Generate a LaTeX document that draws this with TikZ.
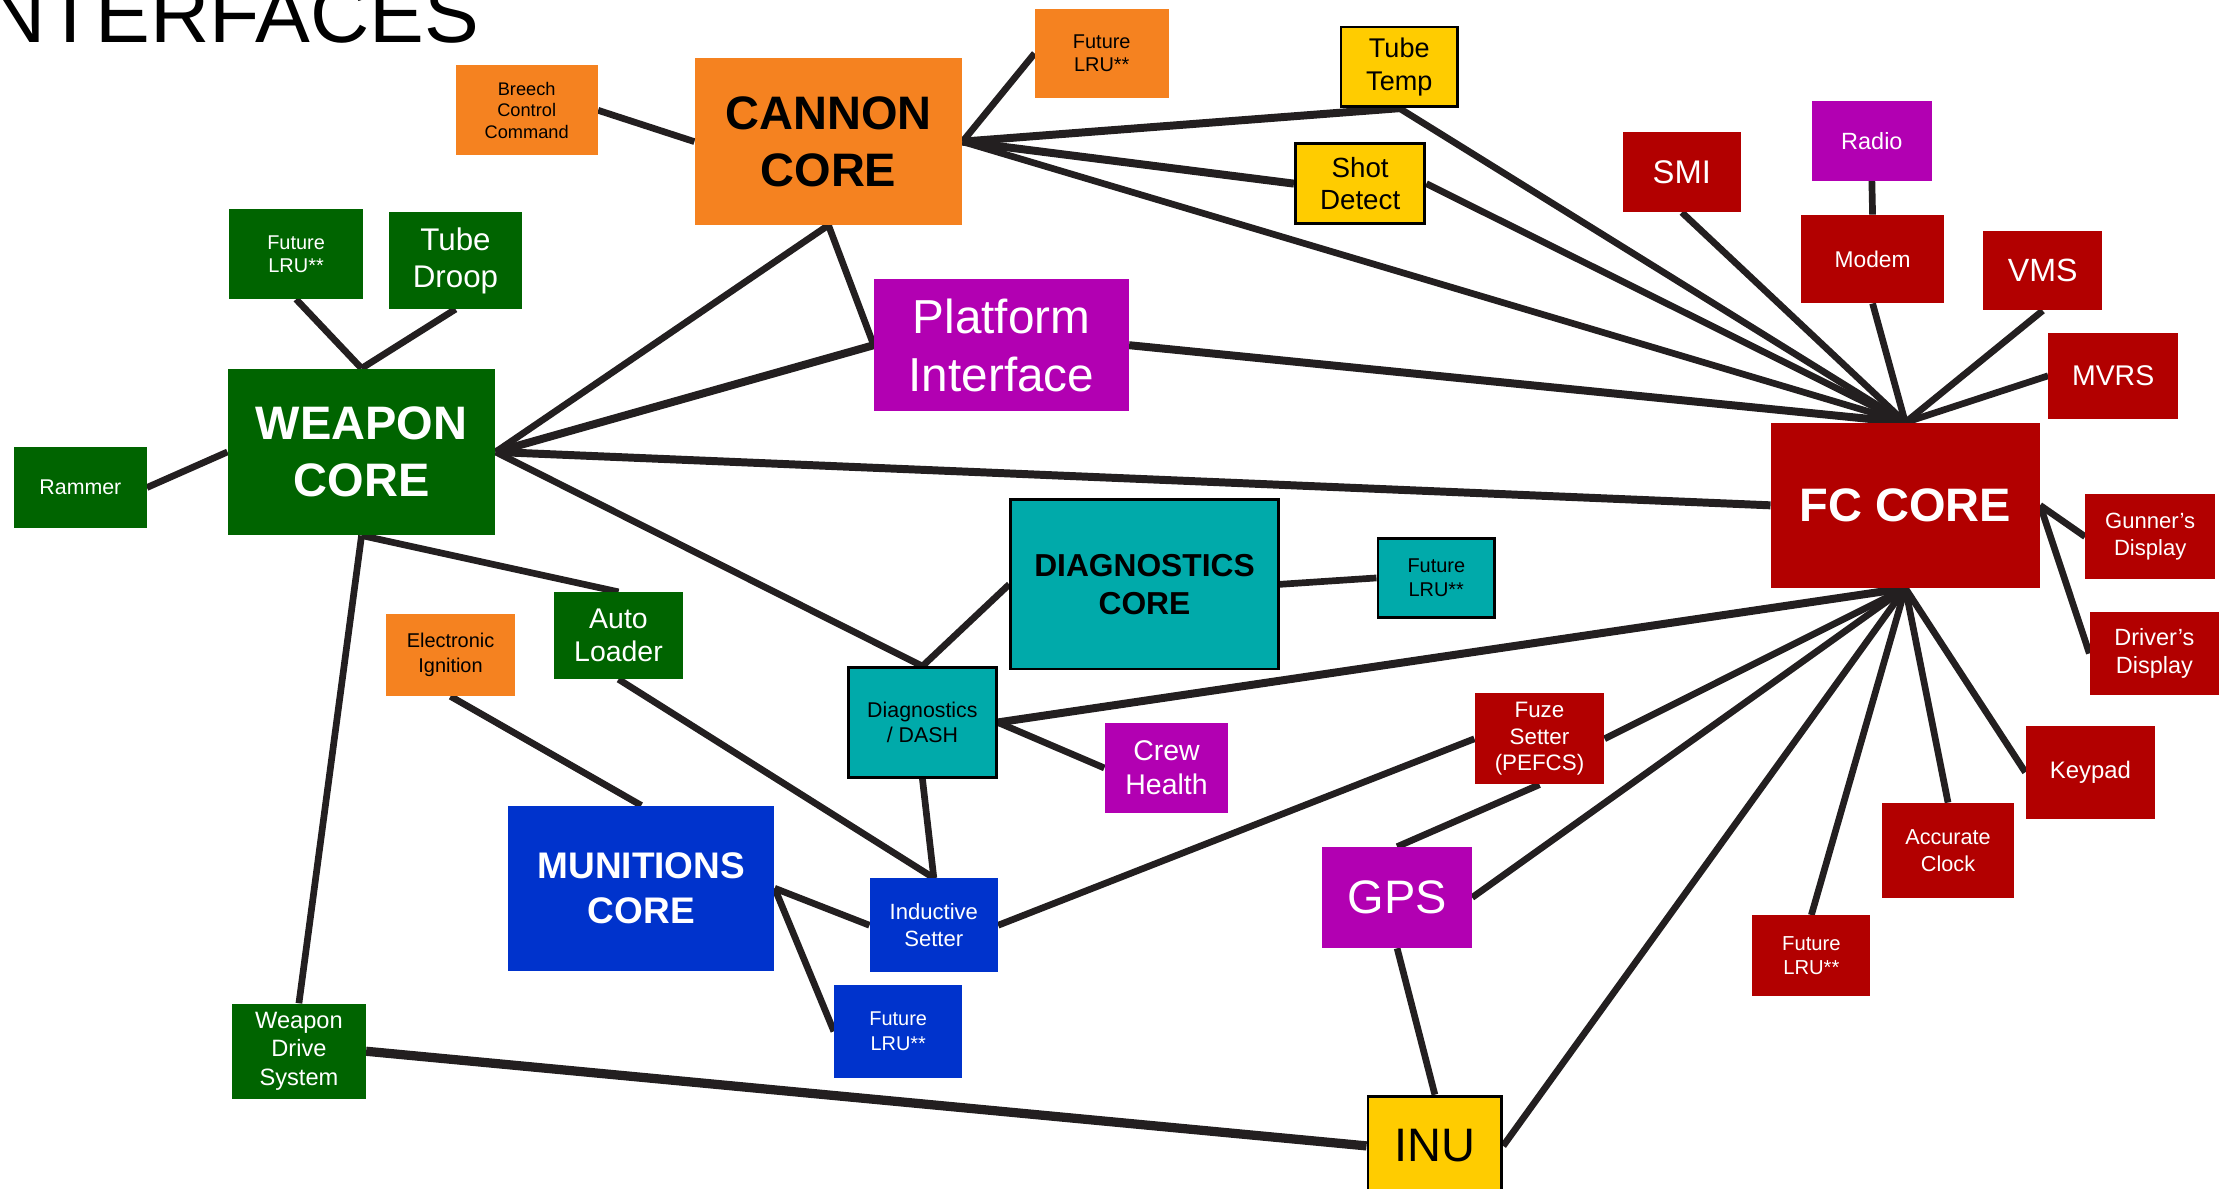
\documentclass[tikz,border=0pt]{standalone}
\usepackage{fontspec}
\setmainfont{Liberation Sans}
\usetikzlibrary{backgrounds}
\definecolor{lineclr}{RGB}{35,31,32}
\definecolor{orangeclr}{RGB}{245,130,32}
\definecolor{greenclr}{RGB}{0,100,0}
\definecolor{redclr}{RGB}{178,0,0}
\definecolor{magclr}{RGB}{178,0,178}
\definecolor{yelclr}{RGB}{255,204,0}
\definecolor{tealclr}{RGB}{0,170,170}
\definecolor{blueclr}{RGB}{0,51,204}
\tikzset{
  box/.style={rectangle, inner sep=0pt, align=center},
  orangebox/.style={box, fill=orangeclr, text=black},
  greenbox/.style={box, fill=greenclr, text=white},
  redbox/.style={box, fill=redclr, text=white},
  magbox/.style={box, fill=magclr, text=white},
  bluebox/.style={box, fill=blueclr, text=white},
  yelbox/.style={box, fill=yelclr, text=black, draw=black, line width=2pt},
  tealbox/.style={box, fill=tealclr, text=black, draw=black, line width=2pt},
  corefont/.style={font=\fontsize{33}{40}\selectfont\bfseries},
  link/.style={draw=lineclr, line width=4.7pt},
  heavylink/.style={draw=lineclr, line width=5.6pt},
  heaviestlink/.style={draw=lineclr, line width=6.5pt},
}
\begin{document}
\begin{tikzpicture}[x=1pt,y=-1pt]
\useasboundingbox (0,0) rectangle (1568,835);
\clip (0,0) rectangle (1568,835);

% heading
\node[inner sep=0pt, anchor=base west, font=\fontsize{57.7}{62}\selectfont] (title) at (-9.8,30) {NTERFACES};

% cannon group
\node[orangebox, minimum width=100pt, minimum height=63pt, font=\fontsize{12.8}{15}\selectfont] (breech) at (370,77.5) {Breech\\Control\\Command};
\node[orangebox, minimum width=188pt, minimum height=117pt, corefont] (cannon) at (582,99.5) {CANNON\\CORE};
\node[orangebox, minimum width=94pt, minimum height=63pt, font=\fontsize{14}{16.5}\selectfont] (futo) at (774,37.5) {Future\\LRU**};
\node[yelbox, minimum width=82pt, minimum height=56pt, font=\fontsize{19}{23}\selectfont] (tubetemp) at (983,47) {Tube\\Temp};
\node[yelbox, minimum width=91pt, minimum height=56pt, font=\fontsize{19.5}{23}\selectfont] (shot) at (955.5,129) {Shot\\Detect};

% weapon group
\node[greenbox, minimum width=94pt, minimum height=63pt, font=\fontsize{14}{16.5}\selectfont] (futg) at (208,178.5) {Future\\LRU**};
\node[greenbox, minimum width=94pt, minimum height=68pt, font=\fontsize{22}{26}\selectfont] (droop) at (320,183) {Tube\\Droop};
\node[greenbox, minimum width=188pt, minimum height=117pt, corefont] (weapon) at (254,317.5) {WEAPON\\CORE};
\node[greenbox, minimum width=93pt, minimum height=57pt, font=\fontsize{15}{18}\selectfont] (rammer) at (56.5,342.5) {Rammer};
\node[greenbox, minimum width=91pt, minimum height=61pt, font=\fontsize{20}{23.5}\selectfont] (autoload) at (434.5,446.5) {Auto\\Loader};
\node[greenbox, minimum width=94pt, minimum height=67pt, font=\fontsize{16.6}{20}\selectfont] (drive) at (210,738.5) {Weapon\\Drive\\System};

\node[magbox, minimum width=179pt, minimum height=93pt, font=\fontsize{33.5}{41}\selectfont] (platform) at (703.5,242.5) {Platform\\Interface};

% fire control group
\node[redbox, minimum width=83pt, minimum height=56pt, font=\fontsize{23}{27}\selectfont] (smi) at (1181.5,121) {SMI};
\node[magbox, minimum width=84pt, minimum height=56pt, font=\fontsize{16.5}{20}\selectfont] (radio) at (1315,99) {Radio};
\node[redbox, minimum width=101pt, minimum height=62pt, font=\fontsize{16}{19}\selectfont] (modem) at (1315.5,182) {Modem};
\node[redbox, minimum width=84pt, minimum height=56pt, font=\fontsize{22.6}{27}\selectfont] (vms) at (1435,190) {VMS};
\node[redbox, minimum width=91pt, minimum height=60pt, font=\fontsize{20}{24}\selectfont] (mvrs) at (1484.5,264) {MVRS};
\node[redbox, minimum width=189pt, minimum height=116pt, corefont] (fc) at (1338.5,355) {FC CORE};
\node[redbox, minimum width=91pt, minimum height=60pt, font=\fontsize{15.5}{19}\selectfont] (gunner) at (1510.5,377) {Gunner's\\Display};
\node[redbox, minimum width=91pt, minimum height=58pt, font=\fontsize{16.5}{20}\selectfont] (driver) at (1513.5,459) {Driver's\\Display};
\node[redbox, minimum width=91pt, minimum height=65pt, font=\fontsize{16.8}{20}\selectfont] (keypad) at (1468.5,542.5) {Keypad};
\node[redbox, minimum width=93pt, minimum height=67pt, font=\fontsize{15.2}{18.5}\selectfont] (clock) at (1368.5,597.5) {Accurate\\Clock};
\node[redbox, minimum width=83pt, minimum height=57pt, font=\fontsize{14.2}{17}\selectfont] (futr) at (1272.5,671.5) {Future\\LRU**};
\node[redbox, minimum width=91pt, minimum height=64pt, font=\fontsize{15.7}{18.5}\selectfont] (fuze) at (1081.5,519) {Fuze\\Setter\\(PEFCS)};
\node[magbox, minimum width=105pt, minimum height=71pt, font=\fontsize{33}{40}\selectfont] (gps) at (981.5,630.5) {GPS};
\node[yelbox, minimum width=94pt, minimum height=70pt, font=\fontsize{33}{40}\selectfont] (inu) at (1008,805) {INU};

% diagnostics group
\node[tealbox, minimum width=188pt, minimum height=119pt, font=\fontsize{22.3}{27}\selectfont\bfseries] (diag) at (804,410.5) {DIAGNOSTICS\\CORE};
\node[tealbox, minimum width=82pt, minimum height=56pt, font=\fontsize{14}{16.5}\selectfont] (futt) at (1009,406) {Future\\LRU**};
\node[tealbox, minimum width=104pt, minimum height=77pt, font=\fontsize{15}{18}\selectfont] (dash) at (648,507.5) {Diagnostics\\/ DASH};
\node[magbox, minimum width=87pt, minimum height=63pt, font=\fontsize{20}{24}\selectfont] (crew) at (819.5,539.5) {Crew\\Health};

% munitions group
\node[orangebox, minimum width=91pt, minimum height=58pt, font=\fontsize{14}{17}\selectfont] (ignition) at (316.5,460) {Electronic\\Ignition};
\node[bluebox, minimum width=187pt, minimum height=116pt, font=\fontsize{26}{31}\selectfont\bfseries] (munitions) at (450.5,624) {MUNITIONS\\CORE};
\node[bluebox, minimum width=90pt, minimum height=66pt, font=\fontsize{15.5}{18.5}\selectfont] (inductive) at (656,650) {Inductive\\Setter};
\node[bluebox, minimum width=90pt, minimum height=65pt, font=\fontsize{14}{17}\selectfont] (futb) at (631,724.5) {Future\\LRU**};

\begin{scope}[on background layer]
  % cannon links
  \draw[link] (breech.east) -- (cannon.west);
  \draw[link] (cannon.east) -- (futo.west);
  \draw[heavylink] (cannon.east) -- (tubetemp.south);
  \draw[heavylink] (cannon.east) -- (shot.west);
  \draw[link] (cannon.east) -- (fc.north);
  \draw[link] (cannon.south) -- (platform.west);
  \draw[link] (cannon.south) -- (weapon.east);
  % into the top of fc core
  \draw[link] (shot.east) -- (fc.north);
  \draw[link] (tubetemp.south) -- (fc.north);
  \draw[link] (smi.south) -- (fc.north);
  \draw[link] (modem.south) -- (fc.north);
  \draw[link] (radio.south) -- (modem.north);
  \draw[link] (vms.south) -- (fc.north);
  \draw[link] (mvrs.west) -- (fc.north);
  \draw[heavylink] (platform.east) -- (fc.north);
  % fc core sides
  \draw[link] (fc.east) -- (gunner.west);
  \draw[link] (fc.east) -- (driver.west);
  % out of the bottom of fc core
  \draw[link] (fc.south) -- (keypad.west);
  \draw[link] (fc.south) -- (clock.north);
  \draw[link] (fc.south) -- (futr.north);
  \draw[link] (fc.south) -- (inu.east);
  \draw[link] (fc.south) -- (gps.east);
  \draw[link] (fc.south) -- (fuze.east);
  \draw[heavylink] (fc.south) -- (dash.east);
  \draw[link] (fuze.south) -- (gps.north);
  \draw[link] (gps.south) -- (inu.north);
  \draw[link] (inductive.east) -- (fuze.west);
  % weapon links
  \draw[heavylink] (weapon.east) -- (platform.west);
  \draw[heavylink] (weapon.east) -- (fc.west);
  \draw[link] (weapon.east) -- (dash.north);
  \draw[link] (weapon.north) -- (futg.south);
  \draw[link] (weapon.north) -- (droop.south);
  \draw[link] (rammer.east) -- (weapon.west);
  \draw[link] (weapon.south) -- (autoload.north);
  \draw[link] (weapon.south) -- (drive.north);
  \draw[heaviestlink] (drive.east) -- (inu.west);
  % diagnostics links
  \draw[link] (diag.west) -- (dash.north);
  \draw[link] (diag.east) -- (futt.west);
  \draw[link] (dash.east) -- (crew.west);
  \draw[link] (dash.south) -- (inductive.north);
  % munitions links
  \draw[link] (autoload.south) -- (inductive.north);
  \draw[link] (ignition.south) -- (munitions.north);
  \draw[link] (munitions.east) -- (inductive.west);
  \draw[link] (munitions.east) -- (futb.west);
\end{scope}
\end{tikzpicture}
\end{document}
